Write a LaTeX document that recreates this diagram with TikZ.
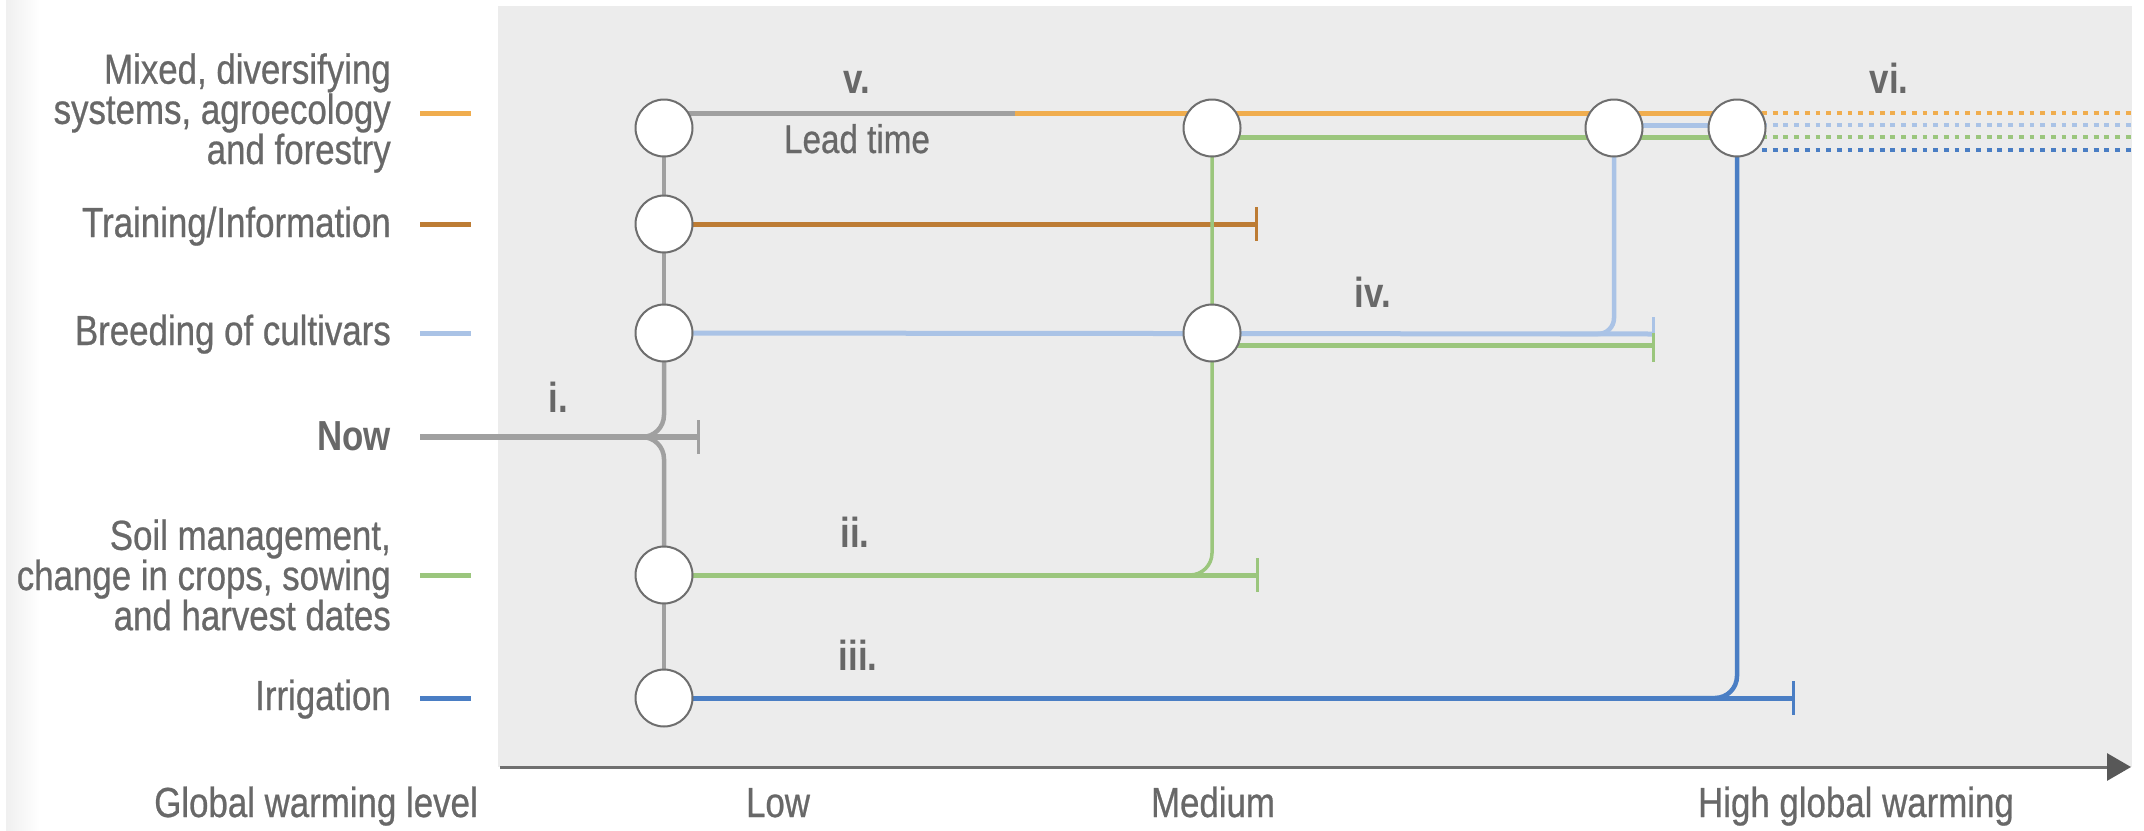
\documentclass[tikz,border=0pt]{standalone}
\usepackage{fontspec}
\setmainfont{Liberation Sans}[FakeStretch=0.83,UprightFeatures={FakeBold=0.6}]
\usetikzlibrary{arrows.meta}
\pgfdeclarelayer{bg}
\pgfdeclarelayer{ln}
\pgfsetlayers{bg,ln,main}
\definecolor{panelgray}{RGB}{236,236,236}
\definecolor{linegray}{RGB}{160,160,160}
\definecolor{corange}{RGB}{240,173,78}
\definecolor{cbrown}{RGB}{189,124,52}
\definecolor{clblue}{RGB}{170,195,230}
\definecolor{cgreen}{RGB}{155,198,125}
\definecolor{cdblue}{RGB}{74,126,196}
\definecolor{textgray}{RGB}{104,104,104}
\definecolor{axisgray}{RGB}{112,112,112}
\definecolor{arrowgray}{RGB}{88,88,88}
\definecolor{circgray}{RGB}{110,110,110}
\begin{document}
\begin{tikzpicture}[x=1pt,y=-1pt,
  lbl/.style={inner sep=0pt,text=textgray,font=\fontsize{42}{37}\selectfont},
  num/.style={inner sep=0pt,text=textgray,font=\fontsize{42}{37}\selectfont\bfseries,anchor=base},
  circ/.style={circle,draw=circgray,line width=2pt,fill=white,minimum size=57pt,inner sep=0pt},
  row/.style={line width=5pt},
  vline/.style={line width=4.5pt,rounded corners=22pt},
  tickmark/.style={line width=3pt},
  dots/.style={line width=4.8pt,dash pattern=on 4.8pt off 5.9pt},
  legdash/.style={line width=5pt}]
\useasboundingbox (0,0) rectangle (2144,830);
\begin{pgfonlayer}{bg}
  \fill[white] (0,0) rectangle (2144,830);
  \shade[left color=black!6,right color=white] (6,0) rectangle (40,830);
  \fill[panelgray] (498,6) rectangle (2132,767);
\end{pgfonlayer}

% circles
\node[circ] (c1) at (664,128) {};
\node[circ] (c2) at (664,224) {};
\node[circ] (c3) at (664,333) {};
\node[circ] (c4) at (664,575) {};
\node[circ] (c5) at (664,698) {};
\node[circ] (m1) at (1212,128) {};
\node[circ] (m2) at (1212,333) {};
\node[circ] (h1) at (1614,128) {};
\node[circ] (h2) at (1737,128) {};

% free ends
\coordinate (lt) at (1015,113);
\coordinate (tbrown) at (1256,224);
\coordinate (tlblue) at (1653,334);
\coordinate (tgreenm) at (1653,345);
\coordinate (tgreen) at (1257,575);
\coordinate (tdblue) at (1793,698);
\coordinate (nowstart) at (420,437);
\coordinate (tnow) at (698,437);
\coordinate (nowj) at (610,437);
\coordinate (gj) at (1140,575);
\coordinate (bj) at (1560,334);
\coordinate (dj) at (1670,698);
\coordinate (eo) at (2132,113);
\coordinate (elb) at (2132,125);
\coordinate (eg) at (2132,137);
\coordinate (edb) at (2132,150);
\coordinate (ax0) at (500,767);
\coordinate (ax1) at (2131,767);

\begin{pgfonlayer}{ln}
  % grey spine
  \draw[linegray,line width=4.5pt] (c1.center) -- (c2.center) -- (c3.center);
  \draw[linegray,line width=4.5pt] (c4.center) -- (c5.center);
  \draw[linegray,vline] (c3.center) -- (c3.center |- nowstart) -- (nowj);
  \draw[linegray,vline] (c4.center) -- (c4.center |- nowstart) -- (nowj);
  \draw[linegray,line width=6pt] (nowstart) -- (tnow);
  \draw[linegray,tickmark] ([yshift=17pt]tnow) -- ([yshift=-17pt]tnow);
  % top row
  \draw[linegray,row] ([yshift=15pt]c1.center) -- (lt);
  \draw[corange,row] (lt) -- ([yshift=15pt]h2.center);
  \draw[cgreen,row] ([yshift=-9pt]m1.center) -- ([yshift=-9pt]h2.center);
  \draw[clblue,row] ([yshift=3pt]h1.center) -- ([yshift=3pt]h2.center);
  \draw[corange,dots] ([xshift=25pt,yshift=15pt]h2.center) -- (eo);
  \draw[clblue,dots] ([xshift=25pt,yshift=3pt]h2.center) -- (elb);
  \draw[cgreen,dots] ([xshift=25pt,yshift=-9pt]h2.center) -- (eg);
  \draw[cdblue,dots] ([xshift=25pt,yshift=-22pt]h2.center) -- (edb);
  % training
  \draw[cbrown,row] (c2.center) -- (tbrown);
  \draw[cbrown,tickmark] ([yshift=17pt]tbrown) -- ([yshift=-17pt]tbrown);
  % breeding
  \draw[clblue,row] (c3.center) -- (tlblue);
  \draw[clblue,tickmark] ([yshift=17pt]tlblue) -- ([yshift=-12pt]tlblue);
  \draw[cgreen,row] ([yshift=-12pt]m2.center) -- (tgreenm);
  \draw[cgreen,tickmark] ([yshift=12pt]tgreenm) -- ([yshift=-17pt]tgreenm);
  \draw[clblue,vline,rounded corners=16pt] (h1.center) -- (h1.center |- tlblue) -- (bj);
  % soil
  \draw[cgreen,row] (c4.center) -- (tgreen);
  \draw[cgreen,tickmark] ([yshift=17pt]tgreen) -- ([yshift=-17pt]tgreen);
  \draw[cgreen,vline,line width=3.5pt] (m1.center) -- (m1.center |- tgreen) -- (gj);
  % irrigation
  \draw[cdblue,row] (c5.center) -- (tdblue);
  \draw[cdblue,tickmark] ([yshift=17pt]tdblue) -- ([yshift=-17pt]tdblue);
  \draw[cdblue,vline] (h2.center) -- (h2.center |- tdblue) -- (dj);
\end{pgfonlayer}

% axis
\draw[axisgray,line width=3pt,-{Triangle[length=24pt,width=27pt,color=arrowgray]}] (ax0) -- (ax1);

% legend dashes
\draw[legdash,corange] (420,113) -- (471,113);
\draw[legdash,cbrown] (420,224) -- (471,224);
\draw[legdash,clblue] (420,333) -- (471,333);
\draw[legdash,cgreen] (420,575) -- (471,575);
\draw[legdash,cdblue] (420,698) -- (471,698);

% left labels
\node[lbl,align=right,anchor=east] (lmix) at (391,113) {Mixed, diversifying\\systems, agroecology\\and forestry};
\node[lbl,anchor=base east] (ltrain) at (391,237) {Training/Information};
\node[lbl,anchor=base east] (lbreed) at (391,345) {Breeding of cultivars};
\node[lbl,anchor=base east,font=\fontsize{42}{37}\selectfont\bfseries] (lnow) at (391,450) {Now};
\node[lbl,align=right,anchor=east] (lsoil) at (391,575) {Soil management,\\change in crops, sowing\\and harvest dates};
\node[lbl,anchor=base east] (lirr) at (391,710) {Irrigation};

% axis labels
\node[lbl,anchor=base east] (lgwl) at (478,817) {Global warming level};
\node[lbl,anchor=base] (llow) at (778,817) {Low};
\node[lbl,anchor=base] (lmed) at (1213,817) {Medium};
\node[lbl,anchor=base] (lhigh) at (1856,817) {High global warming};

% numerals
\node[num] (ni) at (558,412) {i.};
\node[num] (nii) at (855,547) {ii.};
\node[num] (niii) at (858,670) {iii.};
\node[num] (niv) at (1373,307) {iv.};
\node[num] (nv) at (857,93) {v.};
\node[num] (nvi) at (1889,93) {vi.};
\node[lbl,anchor=base,font=\fontsize{40}{37}\selectfont] (llead) at (857,153) {Lead time};
\end{tikzpicture}
\end{document}
